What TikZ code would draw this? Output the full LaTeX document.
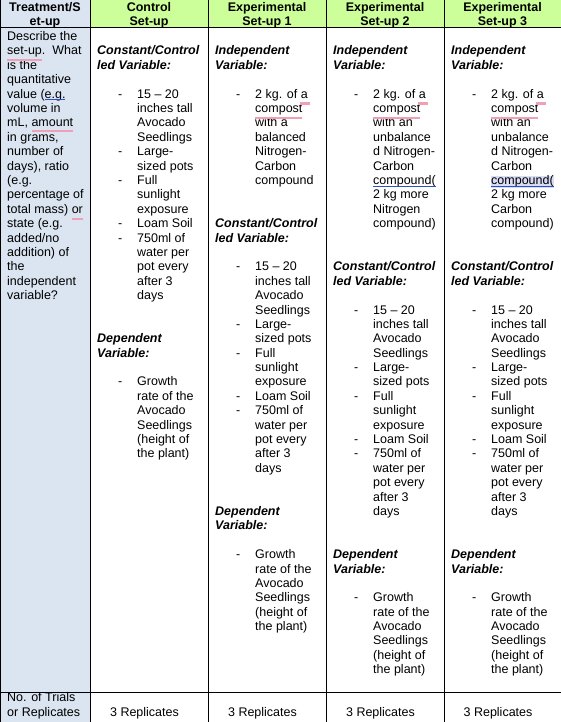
\documentclass[tikz,border=0pt]{standalone}
\usepackage{fontspec}
\setmainfont{Liberation Sans}
\definecolor{hdrgreen}{HTML}{CCFF99}
\definecolor{colblue}{HTML}{DBE5F1}
\definecolor{spellpink}{HTML}{F0A0B4}
\definecolor{gramblue}{HTML}{2850C8}
\definecolor{hilite}{HTML}{D8DCF4}
\newcommand\kline[1]{40.6+14.39*#1}
\newcommand\txtlines[4]{%
  \foreach \t [count=\i from #3] in {#4} {\node[txt] (#1-\i) at (#2,{\kline{\i}}) {\t};}}
\newcommand\dashes[3]{%
  \foreach \k in {#3} {\node[txt] (#1-\k) at (#2,{\kline{\k}}) {-};}}
\tikzset{
  txt/.style={anchor=base west,inner sep=0pt,font=\fontsize{12.5}{14.39}\selectfont},
  txtc/.style={anchor=base,inner sep=0pt,font=\fontsize{12.5}{14.39}\selectfont},
  hdr/.style={txtc,font=\fontsize{12.5}{14.39}\selectfont\bfseries},
  vhead/.style={txt,font=\fontsize{12.5}{14.39}\selectfont\bfseries\itshape},
  grid/.style={line width=1pt,black},
  spell/.style={line width=2.4pt,spellpink},
  gram/.style={line width=1pt,gramblue},
}
\begin{document}
\begin{tikzpicture}[x=1pt,y=-1pt]
\useasboundingbox (0,0) rectangle (561,722);
% fills
\fill[colblue] (0,0) rectangle (90,722);
\fill[hdrgreen] (90,0) rectangle (561,28);
\fill[hilite] (491,176.5) rectangle (554,188);
% grid
\draw[grid] (0,28) -- (561,28);
\draw[grid] (0,692) -- (561,692);
\draw[grid] (0.5,0) -- (0.5,722);
\foreach \xx in {90,208,326,444} {\draw[grid] (\xx,0) -- (\xx,722);}
% headers
\node[hdr] (h1a) at (45,12) {Treatment/S};
\node[hdr] (h1b) at (45,26) {et-up};
\node[hdr] (h2a) at (149,12) {Control};
\node[hdr] (h2b) at (149,26) {Set-up};
\node[hdr] (h3a) at (267,12) {Experimental};
\node[hdr] (h3b) at (267,26) {Set-up 1};
\node[hdr] (h4a) at (385,12) {Experimental};
\node[hdr] (h4b) at (385,26) {Set-up 2};
\node[hdr] (h5a) at (502.5,12) {Experimental};
\node[hdr] (h5b) at (502.5,26) {Set-up 3};
% column 1
\txtlines{c1}{7}{0}{{Describe the},{set-up.\ \ What},{is the},{quantitative},{value (e.g.},{volume in},{mL, amount},{in grams,},{number of},{days), ratio},{(e.g.},{percentage of},{total mass) or},{state (e.g.},{added/no},{addition) of},{the},{independent},{variable?}}
% spelling marks column 1
\draw[spell] (7,60.3) -- (42,60.3);
\draw[spell] (32,130.8) -- (73,130.8);
\draw[spell] (72,218.8) -- (83,218.8);
\draw[gram] (45,99.6) -- (65,99.6);
% column 2 (Control)
\txtlines{c2}{137}{4}{15 – 20,inches tall,Avocado,Seedlings,Large-,sized pots,Full,sunlight,exposure,Loam Soil,750ml of,water per,pot every,after 3,days}
\dashes{c2d}{118}{4,8,10,13,14}
\txtlines{c2g}{137}{24}{{Growth},{rate of the},{Avocado},{Seedlings},{(height of},{the plant)}}
\dashes{c2e}{118}{24}
% column 3 (Exp 1)
\txtlines{c3i}{255}{4}{2 kg. of a,compost,with a,balanced,Nitrogen-,Carbon,compound}
\dashes{c3di}{236}{4}
\txtlines{c3}{255}{16}{15 – 20,inches tall,Avocado,Seedlings,Large-,sized pots,Full,sunlight,exposure,Loam Soil,750ml of,water per,pot every,after 3,days}
\dashes{c3d}{236}{16,20,22,25,26}
\txtlines{c3g}{255}{36}{{Growth},{rate of the},{Avocado},{Seedlings},{(height of},{the plant)}}
\dashes{c3e}{236}{36}
\draw[spell] (300,103.5) -- (310,103.5);
\draw[spell] (255,118) -- (302,118);
% column 4 (Exp 2)
\txtlines{c4i}{373}{4}{{2 kg. of a},{compost},{with an},{unbalance},{d Nitrogen-},{Carbon},{compound(},{2 kg more},{Nitrogen},{compound)}}
\dashes{c4di}{354}{4}
\txtlines{c4}{373}{19}{15 – 20,inches tall,Avocado,Seedlings,Large-,sized pots,Full,sunlight,exposure,Loam Soil,750ml of,water per,pot every,after 3,days}
\dashes{c4d}{354}{19,23,25,28,29}
\txtlines{c4g}{373}{39}{{Growth},{rate of the},{Avocado},{Seedlings},{(height of},{the plant)}}
\dashes{c4e}{354}{39}
\draw[spell] (418,103.5) -- (428,103.5);
\draw[spell] (373,118) -- (420,118);
\draw[gram] (373,186) -- (436,186);
% column 5 (Exp 3)
\txtlines{c5i}{491}{4}{{2 kg. of a},{compost},{with an},{unbalance},{d Nitrogen-},{Carbon},{compound(},{2 kg more},{Carbon},{compound)}}
\dashes{c5di}{472}{4}
\txtlines{c5}{491}{19}{15 – 20,inches tall,Avocado,Seedlings,Large-,sized pots,Full,sunlight,exposure,Loam Soil,750ml of,water per,pot every,after 3,days}
\dashes{c5d}{472}{19,23,25,28,29}
\txtlines{c5g}{491}{39}{{Growth},{rate of the},{Avocado},{Seedlings},{(height of},{the plant)}}
\dashes{c5e}{472}{39}
\draw[spell] (536,103.5) -- (546,103.5);
\draw[spell] (491,118) -- (538,118);
\draw[gram] (491,186) -- (554,186);
% variable headings
\node[vhead] (v2a) at (97,{\kline{1}}) {Constant/Control};
\node[vhead] (v2b) at (97,{\kline{2}}) {led Variable:};
\node[vhead] (v2c) at (97,{\kline{21}}) {Dependent};
\node[vhead] (v2d) at (97,{\kline{22}}) {Variable:};
\node[vhead] (v3a) at (215,{\kline{1}}) {Independent};
\node[vhead] (v3b) at (215,{\kline{2}}) {Variable:};
\node[vhead] (v3c) at (215,{\kline{13}}) {Constant/Control};
\node[vhead] (v3d) at (215,{\kline{14}}) {led Variable:};
\node[vhead] (v3e) at (215,{\kline{33}}) {Dependent};
\node[vhead] (v3f) at (215,{\kline{34}}) {Variable:};
\node[vhead] (v4a) at (333,{\kline{1}}) {Independent};
\node[vhead] (v4b) at (333,{\kline{2}}) {Variable:};
\node[vhead] (v4c) at (333,{\kline{16}}) {Constant/Control};
\node[vhead] (v4d) at (333,{\kline{17}}) {led Variable:};
\node[vhead] (v4e) at (333,{\kline{36}}) {Dependent};
\node[vhead] (v4f) at (333,{\kline{37}}) {Variable:};
\node[vhead] (v5a) at (451,{\kline{1}}) {Independent};
\node[vhead] (v5b) at (451,{\kline{2}}) {Variable:};
\node[vhead] (v5c) at (451,{\kline{16}}) {Constant/Control};
\node[vhead] (v5d) at (451,{\kline{17}}) {led Variable:};
\node[vhead] (v5e) at (451,{\kline{36}}) {Dependent};
\node[vhead] (v5f) at (451,{\kline{37}}) {Variable:};
% bottom row
\node[txt] (b1a) at (7,701.5) {No. of Trials};
\node[txt] (b1b) at (7,716) {or Replicates};
\node[txtc] (b2) at (144.5,716) {3 Replicates};
\node[txtc] (b3) at (262.5,716) {3 Replicates};
\node[txtc] (b4) at (380.5,716) {3 Replicates};
\node[txtc] (b5) at (498,716) {3 Replicates};
\end{tikzpicture}
\end{document}
